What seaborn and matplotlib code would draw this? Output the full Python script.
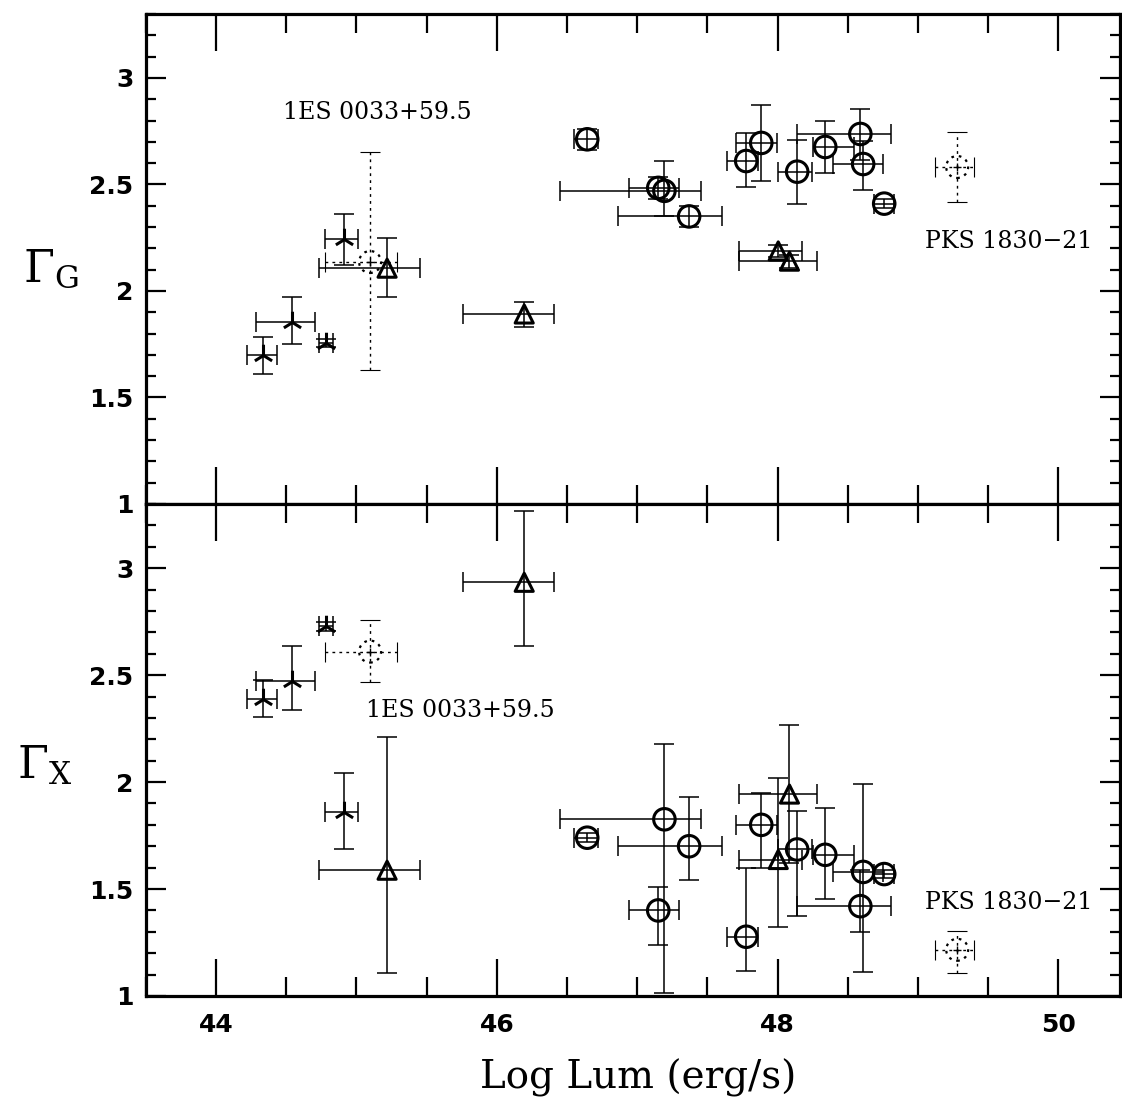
import numpy as np
import pandas as pd
import matplotlib
matplotlib.use("Agg")
import matplotlib.pyplot as plt
import seaborn as sns
from matplotlib.ticker import MultipleLocator

# ---------------- data ----------------
# tri-star sources
lum_star = [44.336, 44.54, 44.783, 44.912]
lum_star_lo = [0.116, 0.254, 0.05, 0.136]
lum_star_hi = [0.10, 0.166, 0.05, 0.098]
gG_star = [1.70, 1.854, 1.756, 2.244]
gG_star_lo = [0.09, 0.103, 0.02, 0.122]
gG_star_hi = [0.085, 0.117, 0.02, 0.117]
gX_star = [2.39, 2.474, 2.728, 1.86]
gX_star_lo = [0.085, 0.136, 0.02, 0.174]
gX_star_hi = [0.085, 0.164, 0.02, 0.183]

# triangle sources
lum_tri = [45.218, 46.195, 48.005, 48.085]
lum_tri_lo = [0.484, 0.435, 0.277, 0.357]
lum_tri_hi = [0.235, 0.215, 0.171, 0.199]
gG_tri = [2.107, 1.892, 2.188, 2.14]
gG_tri_lo = [0.137, 0.061, 0.03, 0.03]
gG_tri_hi = [0.143, 0.056, 0.03, 0.03]
gX_tri = [1.588, 2.934, 1.638, 1.944]
gX_tri_lo = [0.48, 0.30, 0.314, 0.32]
gX_tri_hi = [0.623, 0.334, 0.382, 0.324]

# circle sources
lum_circ = [46.644, 47.15, 47.194, 47.37, 47.777, 47.884, 48.14, 48.34, 48.59, 48.61, 48.76]
lum_circ_lo = [0.094, 0.21, 0.744, 0.504, 0.137, 0.178, 0.135, 0.084, 0.45, 0.213, 0.07]
lum_circ_hi = [0.076, 0.15, 0.262, 0.237, 0.087, 0.114, 0.108, 0.208, 0.22, 0.144, 0.07]
gG_circ = [2.712, 2.484, 2.47, 2.35, 2.61, 2.695, 2.56, 2.676, 2.737, 2.596, 2.41]
gG_circ_lo = [0.05, 0.05, 0.12, 0.05, 0.12, 0.18, 0.15, 0.12, 0.12, 0.12, 0.02]
gG_circ_hi = [0.05, 0.05, 0.14, 0.05, 0.13, 0.18, 0.15, 0.12, 0.117, 0.11, 0.02]
gX_circ = [1.74, 1.40, 1.826, 1.70, 1.277, 1.80, 1.685, 1.66, 1.42, 1.58, 1.57]
gX_circ_lo = [0.02, 0.16, 0.81, 0.16, 0.16, 0.20, 0.31, 0.205, 0.12, 0.47, 0.02]
gX_circ_hi = [0.02, 0.11, 0.35, 0.23, 0.32, 0.15, 0.18, 0.22, 0.17, 0.41, 0.02]

# dotted (special) sources: 1ES 0033+59.5, PKS 1830-21
lum_dot = [45.097, 49.28]
lum_dot_lo = [0.32, 0.155]
lum_dot_hi = [0.19, 0.12]
gG_dot = [2.136, 2.582]
gG_dot_lo = [0.507, 0.162]
gG_dot_hi = [0.517, 0.164]
gX_dot = [2.61, 1.216]
gX_dot_lo = [0.14, 0.108]
gX_dot_hi = [0.15, 0.086]

labels_top = ["1ES 0033+59.5", "PKS 1830\u221221"]
label_top_x = [45.15, 49.65]
label_top_y = [2.84, 2.23]
label_bot_x = [45.74, 49.65]
label_bot_y = [2.333, 1.437]

# ---------------- style ----------------
sns.set_style("ticks")
plt.rcParams["font.family"] = ["DejaVu Sans"]
plt.rcParams["mathtext.fontset"] = "dejavuserif"
plt.rcParams["text.color"] = "black"
plt.rcParams["axes.labelcolor"] = "black"
plt.rcParams["xtick.color"] = "black"
plt.rcParams["ytick.color"] = "black"
plt.rcParams["xtick.labelcolor"] = "black"
plt.rcParams["ytick.labelcolor"] = "black"

fig = plt.figure(figsize=(11.22, 11.04), dpi=100)
ax_top = fig.add_axes([0.1301, 0.54348, 0.8681, 0.4438])
ax_bot = fig.add_axes([0.1301, 0.09783, 0.8681, 0.44565])


def errbars(ax, x, xlo, xhi, y, ylo, yhi, dotted=False):
    eb = ax.errorbar(x, y, xerr=[xlo, xhi], yerr=[ylo, yhi], fmt="none",
                     ecolor="black", elinewidth=1.1 if not dotted else 1.0,
                     capsize=7, capthick=1.1 if not dotted else 0.8, zorder=2)
    if dotted:
        for lc in eb[2]:
            lc.set_linestyle((0, (2.0, 3.0)))
        for cap in eb[1]:
            cap.set_color("0.45")


def markers(ax, x, y, marker, size, lw, hollow=True, ls="solid"):
    df = pd.DataFrame({"x": x, "y": y})
    n0 = len(ax.collections)
    kws = dict(marker=marker, s=size, color="black", linewidth=lw, ax=ax,
               legend=False, zorder=3)
    if hollow:
        kws["edgecolor"] = "black"
    sns.scatterplot(data=df, x="x", y="y", **kws)
    coll = ax.collections[n0]
    if hollow:
        coll.set_facecolor("none")
        coll.set_edgecolor("black")
    coll.set_linestyle(ls)


def panel(ax, gs, gc, gt, gd, lx, ly):
    (ys, ysl, ysh) = gs
    (yc, ycl, ych) = gc
    (yt, ytl, yth) = gt
    (yd, ydl, ydh) = gd
    errbars(ax, lum_star, lum_star_lo, lum_star_hi, ys, ysl, ysh)
    errbars(ax, lum_tri, lum_tri_lo, lum_tri_hi, yt, ytl, yth)
    errbars(ax, lum_circ, lum_circ_lo, lum_circ_hi, yc, ycl, ych)
    errbars(ax, lum_dot, lum_dot_lo, lum_dot_hi, yd, ydl, ydh, dotted=True)
    markers(ax, lum_star, ys, "2", 240, 2.2, hollow=False)
    markers(ax, lum_tri, yt, "^", 170, 2.2)
    markers(ax, lum_circ, yc, "o", 240, 2.2)
    markers(ax, lum_dot, yd, "o", 250, 1.6, ls=(0, (1.2, 2.2)))
    markers(ax, lum_dot, yd, "+", 40, 1.0, hollow=False)
    for t, x, y in zip(labels_top, lx, ly):
        ax.text(x, y, t, fontsize=17, family="DejaVu Serif", ha="center",
                va="center", color="black")

    ax.set_xlim(43.5, 50.44)
    ax.set_ylim(1.0, 3.3)
    ax.xaxis.set_major_locator(MultipleLocator(2))
    ax.xaxis.set_minor_locator(MultipleLocator(0.5))
    ax.yaxis.set_major_locator(MultipleLocator(0.5))
    ax.yaxis.set_minor_locator(MultipleLocator(0.1))
    ax.tick_params(which="both", direction="in", top=True, right=True,
                   bottom=True, left=True, width=1.6, color="black")
    ax.tick_params(axis="x", which="major", length=26.5, pad=12)
    ax.tick_params(axis="x", which="minor", length=13.5)
    ax.tick_params(axis="y", which="major", length=14.4, pad=9)
    ax.tick_params(axis="y", which="minor", length=7.2)
    ax.yaxis.set_major_formatter(matplotlib.ticker.FuncFormatter(
        lambda v, p: ("%g" % v)))
    for s in ax.spines.values():
        s.set_linewidth(2.3)
        s.set_color("black")
        s.set_visible(True)
    ax.set_xlabel("")
    ax.set_ylabel("")


panel(ax_top,
      (gG_star, gG_star_lo, gG_star_hi),
      (gG_circ, gG_circ_lo, gG_circ_hi),
      (gG_tri, gG_tri_lo, gG_tri_hi),
      (gG_dot, gG_dot_lo, gG_dot_hi),
      label_top_x, label_top_y)
panel(ax_bot,
      (gX_star, gX_star_lo, gX_star_hi),
      (gX_circ, gX_circ_lo, gX_circ_hi),
      (gX_tri, gX_tri_lo, gX_tri_hi),
      (gX_dot, gX_dot_lo, gX_dot_hi),
      label_bot_x, label_bot_y)

ax_top.tick_params(axis="x", labelbottom=False)
for lab in ax_bot.get_xticklabels() + ax_bot.get_yticklabels() + ax_top.get_yticklabels():
    lab.set_fontsize(18)
    lab.set_fontweight("bold")
    lab.set_color("black")

ax_top.set_ylabel(r"$\Gamma_{\mathrm{G}}$", fontsize=32, rotation=0,
                  ha="center", va="center")
ax_top.yaxis.set_label_coords(-0.098, 0.478)
ax_bot.set_ylabel(r"$\Gamma_{\mathrm{X}}$", fontsize=32, rotation=0,
                  ha="center", va="center")
ax_bot.yaxis.set_label_coords(-0.104, 0.47)
ax_bot.set_xlabel("Log Lum (erg/s)", fontsize=28, family="DejaVu Serif",
                  va="center")
ax_bot.xaxis.set_label_coords(0.505, -0.167)

fig.savefig("out.png", dpi=100)
